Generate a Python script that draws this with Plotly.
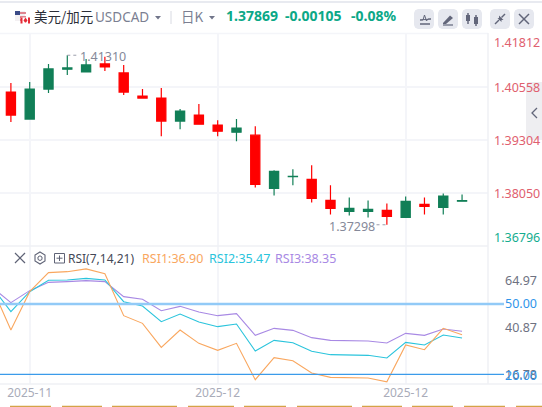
import plotly.graph_objects as go

W, H = 542, 407

candle_idx = list(range(25))
opens = [1.40439, 1.39798, 1.40510, 1.40978, 1.40914, 1.41104, 1.40891, 1.40344, 1.40297, 1.39751, 1.39893, 1.39656, 1.39489,
         1.39418, 1.38159, 1.38435, 1.38373, 1.37874, 1.37613, 1.37613, 1.37637, 1.37470, 1.37779, 1.37708, 1.37855]
highs = [1.40653, 1.40677, 1.41104, 1.41310, 1.41223, 1.41271, 1.41081, 1.40510, 1.40534, 1.40036, 1.40154, 1.39774, 1.39798,
         1.39632, 1.38587, 1.38611, 1.38706, 1.38231, 1.37946, 1.37874, 1.37803, 1.37969, 1.37946, 1.38041, 1.38017]
lows = [1.39727, 1.39798, 1.40416, 1.40843, 1.40914, 1.40938, 1.40368, 1.40297, 1.39394, 1.39561, 1.39679, 1.39394, 1.39276,
        1.38183, 1.37993, 1.38231, 1.37827, 1.37542, 1.37518, 1.37470, 1.37298, 1.37470, 1.37542, 1.37542, 1.37855]
closes = [1.39893, 1.40510, 1.40986, 1.41009, 1.41081, 1.41033, 1.40439, 1.40297, 1.39751, 1.39988, 1.39679, 1.39513, 1.39584,
          1.38254, 1.38563, 1.38444, 1.37922, 1.37684, 1.37684, 1.37661, 1.37494, 1.37851, 1.37732, 1.37974, 1.37869]

rsi_idx = list(range(-1, 25))
rsi1 = [56.97, 38.90, 55.26, 63.37, 63.79, 64.97, 62.94, 45.02, 41.75, 31.51, 38.90, 33.22, 30.23,
        33.22, 17.72, 27.10, 25.82, 20.56, 18.71, 18.71, 18.43, 16.78, 32.51, 30.52, 39.62, 36.90]
rsi2 = [57.25, 46.73, 55.26, 60.10, 60.24, 60.95, 60.24, 50.99, 49.15, 42.46, 45.73, 42.32, 40.33,
        41.47, 29.95, 34.50, 33.50, 29.81, 28.38, 28.24, 28.10, 26.96, 33.64, 32.51, 36.77, 35.47]
rsi3 = [57.11, 50.57, 55.69, 59.24, 59.53, 59.95, 59.53, 53.13, 51.99, 47.15, 49.00, 46.59, 45.02,
        45.87, 36.63, 39.62, 38.76, 35.64, 34.50, 34.36, 34.21, 33.36, 37.48, 36.63, 39.33, 38.35]

price_ticks = [1.41812, 1.40558, 1.39304, 1.38050, 1.36796]
price_tick_colors = ["#e0606e", "#e0606e", "#e0606e", "#e0606e", "#14ad8f"]
month_ticks = [1, 11, 21]
month_labels = ["2025-11", "2025-12", "2025-12"]

GREEN = "#117f57"
RED = "#ff0000"
TEAL = "#0ba887"
GRID = "#f4f5f9"
ICON = "#62667a"
BTN = "#e6e8ef"
ORANGE = "#f9a75f"
CYAN = "#2ac4dc"
PURPLE = "#a889e4"
FONT = "Noto Sans, sans-serif"
CJK = "Noto Sans CJK SC, sans-serif"

shapes = []
notes = []


def px(x):
    return x / W


def py(y):
    return 1 - y / H


def seg(x0, y0, x1, y1, color=ICON, width=1.5, dash=None):
    shapes.append(dict(type="line", xref="paper", yref="paper", x0=px(x0), x1=px(x1), y0=py(y0), y1=py(y1),
                       line=dict(color=color, width=width, dash=dash), layer="above"))


def box(x0, y0, x1, y1, fill, line=None):
    shapes.append(dict(type="rect", xref="paper", yref="paper", x0=px(x0), x1=px(x1), y0=py(y0), y1=py(y1),
                       fillcolor=fill, line=dict(color=line or fill, width=1 if line else 0), layer="above"))


def poly(points, fill=None, line=None, width=1.2):
    path = "M " + " L ".join(f"{px(x):.5f},{py(y):.5f}" for x, y in points) + " Z"
    shapes.append(dict(type="path", xref="paper", yref="paper", path=path, fillcolor=fill or "rgba(0,0,0,0)",
                       line=dict(color=line or "rgba(0,0,0,0)", width=width), layer="above"))


def rounded(x0, y0, x1, y1, r, fill):
    # sketched with cut corners, small enough not to notice
    c = r * 0.3
    poly([(x0 + r, y0), (x1 - r, y0), (x1 - c, y0 + c), (x1, y0 + r), (x1, y1 - r), (x1 - c, y1 - c), (x1 - r, y1),
          (x0 + r, y1), (x0 + c, y1 - c), (x0, y1 - r), (x0, y0 + r), (x0 + c, y0 + c)], fill=fill)


def text(x, y, s, color, size=12, anchor="left", family=FONT):
    notes.append(dict(xref="paper", yref="paper", x=px(x), y=py(y), text=s, showarrow=False, xanchor=anchor,
                      yanchor="middle", align=anchor, font=dict(color=color, size=size, family=family),
                      borderpad=0, borderwidth=0))


# frame of the two panes
seg(0, 2, 542, 2, "#e8eaf0", 2)
seg(0, 33.5, 488, 33.5, GRID, 1.5)
seg(0, 246, 488, 246, "#eff0f4", 1.5)
seg(0, 384, 542, 384, "#eff0f4", 1.5)
seg(488, 33, 488, 384, "#eff0f4", 1.5)

# header
box(15, 11, 25, 21, "#f3f0f2")
box(15, 11, 20, 15, "#3a4a86")
for y in (13, 17, 20):
    seg(20, y, 26, y, "#d8616e", 1.5)
box(21, 17.5, 30, 23.5, "#ffffff")
box(20.5, 17.5, 22.5, 23.5, "#e52b36")
box(28, 17.5, 30, 23.5, "#e52b36")
poly([(25.5, 17.5), (27.5, 20.5), (26, 22.5), (25, 22.5), (23.5, 20.5)], fill="#e52b36")
text(34, 16, "美元/加元", "#2b2d36", 13.5, family=CJK)
text(95, 17, "USDCAD", "#7b7f92", 13.5)
poly([(155, 16), (161, 16), (158, 19.5)], fill="#71758a")
seg(171, 11, 171, 24, "#d8dae2", 1)
text(181, 16, "日K", "#7b7f92", 13.5, family=CJK)
poly([(209, 16), (215, 16), (212, 19.5)], fill="#71758a")
text(226, 16, "<b>1.37869</b>", TEAL, 14)
text(285, 16, "<b>-0.00105</b>", TEAL, 14)
text(351, 16, "<b>-0.08%</b>", TEAL, 14)

# toolbar buttons
for x0 in (414, 438, 462, 490, 514):
    rounded(x0, 9, x0 + 20, 29, 4, BTN)
seg(420, 24, 430, 24)
poly([(420, 20), (423, 20), (424.5, 15), (426.5, 21), (428, 19), (431, 19)], line=ICON, width=1)
poly([(443, 23), (450, 15.5), (453, 18), (446, 24), (443, 24)], fill=ICON)
seg(443, 25, 453, 25, ICON, 1.2)
seg(468, 13, 468, 24)
box(466, 15, 470, 21, ICON)
seg(476, 15, 476, 26)
box(474, 17, 478, 24, ICON)
seg(495, 24, 499, 20)
poly([(497.5, 18), (501.5, 18), (501.5, 22)], fill=ICON)
seg(505, 14, 501.5, 17.5)
poly([(499, 15.5), (503.5, 20), (499, 20)], fill=ICON)
seg(519, 14, 529, 24)
seg(529, 14, 519, 24)

# collapse tab on the right edge
rounded(526, 82, 546, 140, 3, "#eeeef1")
poly([(537, 108), (532, 113), (537, 118), (532, 113)], line=ICON, width=1.3)

# RSI pane header
seg(15, 253, 25, 263, "#5f6376", 1.2)
seg(25, 253, 15, 263, "#5f6376", 1.2)
poly([(40, 252), (45, 255), (45, 261), (40, 264), (35, 261), (35, 255)], line="#5f6376", width=1.1)
poly([(40, 255.8), (42, 257), (42, 259.5), (40, 260.5), (38, 259.5), (38, 257)], line="#5f6376", width=1)
box(54.5, 253.5, 64.5, 263, "rgba(0,0,0,0)", "#5f6376")
seg(59.5, 255.5, 59.5, 261, "#5f6376", 1)
seg(56.5, 258.2, 62.5, 258.2, "#5f6376", 1)
text(68, 258, "RSI(7,14,21)", "#444857", 12)
text(142, 258, "RSI1:36.90", ORANGE, 12.5)
text(209, 258, "RSI2:35.47", CYAN, 12.5)
text(275, 258, "RSI3:38.35", PURPLE, 12.5)

# tabs clipped by the bottom of the window
for x0, x1 in [(10, 51), (62, 102), (112, 177), (188, 234), (244, 286), (297, 352), (362, 402), (412, 453), (464, 505),
               (516, 542)]:
    seg(x0, 406.5, x1, 406.5, "#d4a347", 1.5)

fig = go.Figure()
fig.add_trace(
    go.Candlestick(
        x=candle_idx,
        open=opens,
        high=highs,
        low=lows,
        close=closes,
        increasing=dict(line=dict(color=GREEN, width=1.2), fillcolor=GREEN),
        decreasing=dict(line=dict(color=RED, width=1.2), fillcolor=RED),
        whiskerwidth=0,
        showlegend=False,
        xaxis="x",
        yaxis="y",
    )
)
for name, values, color in (("RSI3", rsi3, PURPLE), ("RSI2", rsi2, CYAN), ("RSI1", rsi1, ORANGE)):
    fig.add_trace(
        go.Scatter(
            x=rsi_idx,
            y=values,
            mode="lines",
            name=name,
            line=dict(color=color, width=1.1),
            showlegend=False,
            xaxis="x2",
            yaxis="y2",
        )
    )

# reference lines run on past the pane, up to the labels
for level, color, width in ((50, "#92caf7", 2.4), (20, "#3b9bea", 1.2)):
    shapes.append(dict(type="line", xref="paper", yref="y2", x0=0, x1=px(504), y0=level, y1=level,
                       line=dict(color=color, width=width), layer="above"))

# highest / lowest markers
shapes.append(dict(type="line", xref="x", yref="y", x0=3, x1=3.55, y0=highs[3], y1=highs[3],
                   line=dict(color="#9a9dab", width=1, dash="dot"), layer="above"))
notes.append(dict(xref="x", yref="y", x=3.55, y=highs[3], text="1.41310", showarrow=False, xanchor="left",
                  yshift=-1, font=dict(color="#858999", size=12.5, family=FONT)))
shapes.append(dict(type="line", xref="x", yref="y", x0=19.45, x1=20, y0=lows[20], y1=lows[20],
                   line=dict(color="#9a9dab", width=1, dash="dot"), layer="above"))
notes.append(dict(xref="x", yref="y", x=19.45, y=lows[20], text="1.37298", showarrow=False, xanchor="right",
                  yshift=-2, font=dict(color="#858999", size=12.5, family=FONT)))

# axis labels, pushed inside the pane the way the original does
price_shift = [-8, 0, 0, 0, 9]
for value, color, shift in zip(price_ticks, price_tick_colors, price_shift):
    notes.append(dict(xref="paper", yref="y", x=px(491.5), y=value, text=f"{value:.5f}", showarrow=False, xanchor="left",
                      yshift=shift, font=dict(color=color, size=12.5, family=FONT)))
for value, color, shift in ((64.97, "#6e7282", -12), (40.87, "#6e7282", -2), (16.78, "#6e7282", 7),
                            (50.00, "#2f95ea", 0), (20.00, "#2f95ea", -1)):
    notes.append(dict(xref="paper", yref="y2", x=px(503), y=value, text=f"{value:.2f}", showarrow=False, xanchor="left",
                      yshift=shift, font=dict(color=color, size=12.5, family=FONT)))

x_range = [-0.58, 25.38]
fig.update_layout(
    width=W,
    height=H,
    autosize=False,
    margin=dict(t=0, l=0, b=0, r=0),
    paper_bgcolor="white",
    plot_bgcolor="white",
    font=dict(family=FONT, size=12),
    hovermode=False,
    dragmode=False,
    xaxis=dict(domain=[0, px(488)], range=x_range, tickvals=month_ticks, showticklabels=False, ticks="",
               showgrid=True, gridcolor=GRID, gridwidth=1.5, zeroline=False, rangeslider=dict(visible=False),
               anchor="y", fixedrange=True),
    yaxis=dict(domain=[py(246), py(34)], range=[price_ticks[-1], price_ticks[0]], tickvals=price_ticks,
               showticklabels=False, ticks="", showgrid=True, gridcolor=GRID, gridwidth=1.5, zeroline=False,
               anchor="x", fixedrange=True),
    xaxis2=dict(domain=[0, px(488)], range=x_range, tickvals=month_ticks, ticktext=month_labels, ticks="",
                tickfont=dict(color="#a9acb9", size=12, family=FONT), showgrid=True, gridcolor=GRID, gridwidth=1.5,
                zeroline=False, anchor="y2", fixedrange=True),
    yaxis2=dict(domain=[py(384), py(246)], range=[15.87, 74.74], showticklabels=False, ticks="", showgrid=False,
                zeroline=False, anchor="x2", fixedrange=True),
    shapes=shapes,
    annotations=notes,
)

# the page's default body margin would push everything 8px in
fig.write_html("out.html", config=dict(displayModeBar=False),
               post_script="document.body.style.margin='0';document.documentElement.style.overflow='hidden';")
